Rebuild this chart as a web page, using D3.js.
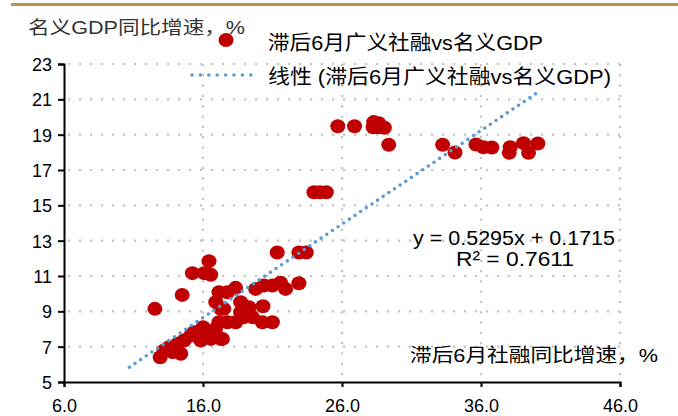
<html>
<head>
    <meta charset="utf-8">
    <script src="https://d3js.org/d3.v7.min.js"></script>
    <style>
        body { margin: 0; background: #fff; }
        text { font-family: "Liberation Sans", Arial, "Noto Sans CJK SC", sans-serif; }
        .cjk { font-family: "Liberation Sans", "Noto Sans CJK SC", sans-serif; }
    </style>
</head>
<body>
<svg id="chart" width="678" height="416"></svg>
<script>
    // lagged 6m social financing growth (x) vs nominal GDP growth (y)
    const sfGrowth = [
        25.70, 26.90, 28.28, 28.64, 28.24, 29.05, 28.62, 29.36,
        33.24, 34.13, 35.64, 36.18, 36.78, 38.10, 38.03, 39.06, 39.42, 40.09,
        23.98, 24.41, 24.87,
        21.34, 22.90, 23.43,
        16.43, 15.24, 16.08, 16.56, 14.50, 12.54,
        17.15, 17.76, 18.35, 19.79, 20.38, 20.99, 21.58, 21.94, 22.90,
        16.92, 17.27, 17.50, 18.71, 18.95, 19.31, 20.31,
        17.15, 17.76, 18.35, 19.55, 20.27, 20.99, 18.71, 19.19, 18.95,
        15.84, 15.12, 14.64, 14.17, 13.56, 13.20, 13.80, 14.40, 12.92,
        16.56, 17.27, 15.84, 15.36, 16.32, 16.90, 16.00, 17.40
    ];
    const gdpGrowth = [
        19.48, 19.48, 19.71, 19.65, 19.42, 19.39, 19.42, 18.43,
        18.43, 17.99, 18.44, 18.29, 18.27, 18.29, 17.97, 18.52, 17.97, 18.50,
        15.74, 15.74, 15.74,
        12.33, 12.33, 12.33,
        11.84, 11.16, 11.16, 11.07, 9.93, 9.14,
        10.08, 10.08, 10.33, 10.27, 10.46, 10.46, 10.62, 10.27, 10.59,
        9.52, 9.14, 9.14, 9.52, 9.14, 9.23, 9.29,
        8.38, 8.38, 8.38, 8.67, 8.38, 8.38, 8.95, 8.77, 8.67,
        7.82, 7.63, 7.35, 7.16, 6.97, 6.78, 6.69, 6.60, 6.40,
        7.44, 7.44, 7.35, 7.82, 7.82, 8.00, 8.10, 7.44
    ];
    const slope = 0.5295, intercept = 0.1715;
    const trendRange = [10.7, 40.2];
    const xTicks = [6, 16, 26, 36, 46];
    const yTicks = [5, 7, 9, 11, 13, 15, 17, 19, 21, 23];

    const svg = d3.select("#chart");
    const plotLeft = 64, plotRight = 620, plotTop = 64, plotBottom = 382;

    const x = d3.scaleLinear().domain([6, 46]).range([plotLeft, plotRight]);
    const y = d3.scaleLinear().domain([5, 23]).range([plotBottom, plotTop]);

    // gold rule on top
    svg.append("rect")
        .attr("x", 11).attr("y", 3).attr("width", 667).attr("height", 3)
        .attr("fill", "#C0914A");

    // dotted grid
    const grid = svg.append("g");
    grid.selectAll("line.h").data(yTicks.slice(1))
        .join("line")
        .attr("x1", plotLeft + 4).attr("x2", plotRight)
        .attr("y1", d => y(d)).attr("y2", d => y(d))
        .attr("stroke", "#c4c4c4").attr("stroke-width", 2.2)
        .attr("stroke-dasharray", "2.2,8.8");
    grid.selectAll("line.v").data(xTicks.slice(1))
        .join("line")
        .attr("x1", d => x(d)).attr("x2", d => x(d))
        .attr("y1", plotTop).attr("y2", plotBottom)
        .attr("stroke", "#c4c4c4").attr("stroke-width", 2.2)
        .attr("stroke-dasharray", "2.2,8.1");

    // axes
    const yAxis = svg.append("g")
        .attr("transform", "translate(" + plotLeft + ",0)")
        .call(d3.axisLeft(y).tickValues(yTicks).tickSize(6).tickPadding(6).tickFormat(d3.format("d")));
    const xAxis = svg.append("g")
        .attr("transform", "translate(0," + plotBottom + ")")
        .call(d3.axisBottom(x).tickValues(xTicks).tickSize(5).tickPadding(12).tickFormat(d3.format(".1f")));
    [yAxis, xAxis].forEach(a => {
        a.select(".domain").attr("stroke", "#000").attr("stroke-width", 2);
        a.selectAll(".tick line").attr("stroke", "#000").attr("stroke-width", 2);
        a.selectAll(".tick text").attr("fill", "#000").attr("font-size", 18)
            .attr("font-family", "'Liberation Sans', Arial, sans-serif");
    });
    yAxis.selectAll(".tick text").attr("dy", "0.36em");

    // scatter points
    const pts = sfGrowth.map((v, i) => [v, gdpGrowth[i]]);
    svg.append("g").selectAll("ellipse").data(pts)
        .join("ellipse")
        .attr("cx", d => x(d[0]))
        .attr("cy", d => y(d[1]))
        .attr("rx", 7.5).attr("ry", 7)
        .attr("fill", "#C00000");

    // linear trend
    svg.append("line")
        .attr("x1", x(trendRange[0])).attr("y1", y(slope * trendRange[0] + intercept))
        .attr("x2", x(trendRange[1])).attr("y2", y(slope * trendRange[1] + intercept))
        .attr("stroke", "#5B9BD5").attr("stroke-width", 3.6)
        .attr("stroke-linecap", "round").attr("stroke-dasharray", "0,6.8");

    function label(txt, px, py, size, len, anchor, color) {
        return svg.append("text").attr("class", "cjk")
            .attr("x", px).attr("y", py)
            .attr("font-size", size).attr("fill", color || "#000")
            .attr("text-anchor", anchor || "start")
            .attr("textLength", len).attr("lengthAdjust", "spacingAndGlyphs")
            .text(txt);
    }

    // y title
    label("名义GDP同比增速，%", 28, 34, 18, 217, "start", "#333");

    // legend
    svg.append("ellipse").attr("cx", 226).attr("cy", 40).attr("rx", 7.5).attr("ry", 7)
        .attr("fill", "#C00000");
    label("滞后6月广义社融vs名义GDP", 268, 50, 20, 275);
    svg.append("line")
        .attr("x1", 192).attr("x2", 259).attr("y1", 75).attr("y2", 75)
        .attr("stroke", "#5B9BD5").attr("stroke-width", 3.6)
        .attr("stroke-linecap", "round").attr("stroke-dasharray", "0,8.4");
    label("线性 (滞后6月广义社融vs名义GDP)", 268, 84, 20, 343);

    // equation
    label("y = 0.5295x + 0.1715", 514, 245, 20, 202, "middle");
    label("R² = 0.7611", 515, 266, 20, 118, "middle");

    // x title
    label("滞后6月社融同比增速，%", 658, 362, 19, 248, "end");
</script>
</body>
</html>
